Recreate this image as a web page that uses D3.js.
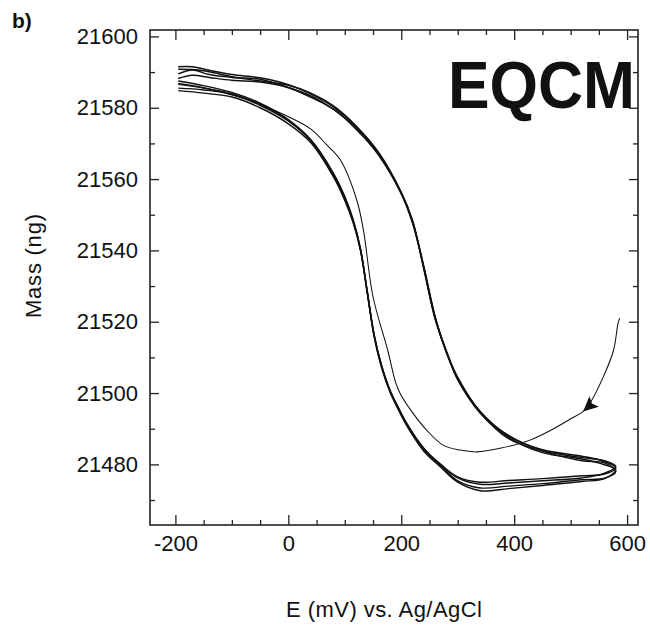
<!DOCTYPE html>
<html>
<head>
<meta charset="utf-8">
<script src="https://cdn.jsdelivr.net/npm/d3@7"></script>
<style>
  html, body { margin: 0; padding: 0; background: #fff; }
  svg { display: block; }
  text { font-family: "Liberation Sans", Arial, Helvetica, sans-serif; fill: #111; }
</style>
</head>
<body>
<svg id="chart" width="650" height="627"></svg>
<script>
// ---------- data ----------
const xMajorTicks = [-200, 0, 200, 400, 600];
const xMinorTicks = [-150, -100, -50, 50, 100, 150, 250, 300, 350, 450, 500, 550];
const yMajorTicks = [21480, 21500, 21520, 21540, 21560, 21580, 21600];
const yMinorTicks = [21470, 21490, 21510, 21530, 21550, 21570, 21590];

// first (initial) cathodic scan, starting at the open-circuit point
const firstE = [587, 584, 576, 558, 534, 522, 500, 470, 428, 375, 334, 304, 274, 245, 221, 198, 190, 176, 150, 133, 121, 92, 68, 40, 0, -50, -100, -150, -195];
const firstM = [21521, 21519.6, 21512, 21504.6, 21497.1, 21494.8, 21492.8, 21490, 21486.8, 21484.5, 21483.5, 21484, 21485.4, 21489.6, 21494.3, 21499.9, 21503, 21512, 21527, 21545.7, 21554.2, 21565.4, 21569.6, 21574, 21577.5, 21581, 21584, 21585.5, 21586.5];

// potentials of the anodic (forward) and cathodic (reverse) sweeps
const anodicE = [-195, -170, -140, -100, -50, 0, 40, 80, 120, 160, 200, 220, 240, 260, 280, 300, 340, 390, 450, 520, 560, 580];
const cathodicE = [580, 560, 520, 450, 390, 340, 300, 270, 240, 210, 195, 180, 165, 152, 140, 128, 115, 100, 80, 40, 0, -50, -100, -150, -195];

// mass of each cycle
const cycle1Anodic = [21591.5, 21591.5, 21590.5, 21589.3, 21588.4, 21586.5, 21583.8, 21580.2, 21574.8, 21567.2, 21556.1, 21548, 21535, 21521.2, 21511.8, 21504.2, 21494.8, 21487.9, 21484.1, 21482.3, 21480.8, 21479];
const cycle2Anodic = [21589.5, 21590.6, 21589.3, 21588.5, 21588, 21585.7, 21583.3, 21579.5, 21574.5, 21566.7, 21555.8, 21547.6, 21535.3, 21521, 21511.3, 21504, 21494.3, 21487.6, 21483.3, 21481.5, 21479.9, 21478.5];
const cycle3Anodic = [21588.2, 21589.1, 21588.5, 21587.7, 21587.2, 21585.6, 21582.9, 21579.6, 21574, 21566.8, 21556.2, 21548.4, 21534.7, 21520.7, 21511.6, 21503.7, 21494.5, 21487.2, 21483.7, 21481, 21480.4, 21478];
const cycle4Anodic = [21590.8, 21590.7, 21590.1, 21588.7, 21587.5, 21586.3, 21584.1, 21580.5, 21574.9, 21567.5, 21556.3, 21548.2, 21535.5, 21521.5, 21511.5, 21504.4, 21494.7, 21488.1, 21483.9, 21481.9, 21481, 21479.4];

const cycle1Cathodic = [21478.2, 21477.3, 21476.8, 21476, 21475.5, 21475, 21476.5, 21480, 21484.3, 21491.3, 21495.8, 21500.8, 21507.7, 21516.2, 21528.3, 21540.3, 21548.5, 21555.1, 21561.6, 21571, 21576.7, 21581.3, 21584.3, 21586.2, 21587.5];
const cycle2Cathodic = [21477, 21476, 21475.2, 21474.1, 21473.2, 21472.6, 21475, 21479.2, 21483.7, 21490.8, 21495.3, 21500.3, 21507.2, 21515.8, 21527.8, 21539.8, 21547.7, 21554, 21560.6, 21570.2, 21575.5, 21580, 21583, 21584.1, 21584.8];
const cycle3Cathodic = [21476.8, 21476.1, 21475.7, 21474.6, 21473.9, 21473.4, 21475.4, 21479.6, 21484.2, 21491.1, 21495.6, 21500.6, 21507.6, 21516.1, 21528.2, 21540.1, 21548, 21554.4, 21561.2, 21570.7, 21576.3, 21580.7, 21583.8, 21585, 21585.5];
const cycle4Cathodic = [21478.6, 21477.5, 21476.2, 21475.4, 21474.8, 21474.4, 21476.2, 21479.8, 21484.5, 21491.4, 21495.9, 21500.8, 21507.8, 21516.3, 21528.1, 21540.1, 21548.3, 21554.8, 21561.3, 21570.8, 21576.4, 21580.9, 21583.6, 21585.6, 21586.8];

const arrowIndex = 5; // arrow on the first scan at E = 522 mV

// ---------- chart ----------
const svg = d3.select("#chart");
const plotLeft = 150, plotRight = 638, plotTop = 30, plotBottom = 525;

const x = d3.scaleLinear().domain([-245, 619.3]).range([plotLeft, plotRight]);
const y = d3.scaleLinear().domain([21463, 21601.8]).range([plotBottom, plotTop]);

const axisColor = "#222";
const fontSize = 22;
const fmt = d => String(d);

// frame
svg.append("rect")
  .attr("x", plotLeft).attr("y", plotTop)
  .attr("width", plotRight - plotLeft).attr("height", plotBottom - plotTop)
  .attr("fill", "none").attr("stroke", axisColor).attr("stroke-width", 1.6);

function styleAxis(g) {
  g.select(".domain").remove();
  g.selectAll(".tick line").attr("stroke", axisColor).attr("stroke-width", 1.3);
  g.selectAll(".tick text").attr("font-size", fontSize).attr("fill", "#111")
    .attr("font-family", '"Liberation Sans", Arial, Helvetica, sans-serif');
}

// bottom
svg.append("g").attr("transform", `translate(0,${plotBottom})`)
  .call(d3.axisBottom(x).tickValues(xMajorTicks).tickSize(-10).tickSizeOuter(0).tickPadding(10).tickFormat(fmt))
  .call(styleAxis);
svg.append("g").attr("transform", `translate(0,${plotBottom})`)
  .call(d3.axisBottom(x).tickValues(xMinorTicks).tickSize(-5).tickSizeOuter(0).tickFormat(""))
  .call(styleAxis);
// top
svg.append("g").attr("transform", `translate(0,${plotTop})`)
  .call(d3.axisTop(x).tickValues(xMajorTicks).tickSize(-10).tickSizeOuter(0).tickFormat(""))
  .call(styleAxis);
svg.append("g").attr("transform", `translate(0,${plotTop})`)
  .call(d3.axisTop(x).tickValues(xMinorTicks).tickSize(-5).tickSizeOuter(0).tickFormat(""))
  .call(styleAxis);
// left
svg.append("g").attr("transform", `translate(${plotLeft},0)`)
  .call(d3.axisLeft(y).tickValues(yMajorTicks).tickSize(-9).tickSizeOuter(0).tickPadding(12).tickFormat(fmt))
  .call(styleAxis);
svg.append("g").attr("transform", `translate(${plotLeft},0)`)
  .call(d3.axisLeft(y).tickValues(yMinorTicks).tickSize(-5).tickSizeOuter(0).tickFormat(""))
  .call(styleAxis);
// right
svg.append("g").attr("transform", `translate(${plotRight},0)`)
  .call(d3.axisRight(y).tickValues(yMajorTicks).tickSize(-9).tickSizeOuter(0).tickFormat(""))
  .call(styleAxis);
svg.append("g").attr("transform", `translate(${plotRight},0)`)
  .call(d3.axisRight(y).tickValues(yMinorTicks).tickSize(-5).tickSizeOuter(0).tickFormat(""))
  .call(styleAxis);

// curves
const line = d3.line()
  .x(d => x(d[0]))
  .y(d => y(d[1]))
  .curve(d3.curveCatmullRom.alpha(0.5));

const zip = (es, ms) => es.map((e, i) => [e, ms[i]]);

const cycles = [
  [cycle1Anodic, cycle1Cathodic],
  [cycle2Anodic, cycle2Cathodic],
  [cycle3Anodic, cycle3Cathodic],
  [cycle4Anodic, cycle4Cathodic]
];

const firstPts = zip(firstE, firstM);
svg.append("path")
  .attr("d", line(firstPts))
  .attr("fill", "none").attr("stroke", "#111").attr("stroke-width", 1.05);

cycles.forEach(([a, c]) => {
  const pts = zip(anodicE, a).concat(zip(cathodicE, c).slice(1));
  svg.append("path")
    .attr("d", line(pts))
    .attr("fill", "none").attr("stroke", "#111").attr("stroke-width", 1.45);
});

// arrowhead on the first scan
{
  const p0 = firstPts[arrowIndex - 1], p1 = firstPts[arrowIndex];
  const x0 = x(p0[0]), y0 = y(p0[1]), x1 = x(p1[0]), y1 = y(p1[1]);
  const ang = Math.atan2(y1 - y0, x1 - x0) * 180 / Math.PI + 8;
  svg.append("path")
    .attr("d", "M0,0 L-15,-7 L-12,0 L-15,7 Z")
    .attr("transform", `translate(${x1},${y1}) rotate(${ang})`)
    .attr("fill", "#111");
}

// labels
svg.append("text")
  .attr("x", 12).attr("y", 28)
  .attr("font-size", 21).attr("font-weight", "bold")
  .text("b)");

svg.append("text")
  .attr("x", 448).attr("y", 108)
  .attr("font-size", 66).attr("font-weight", "bold")
  .attr("textLength", 187).attr("lengthAdjust", "spacingAndGlyphs")
  .attr("fill", "#000")
  .text("EQCM");

svg.append("text")
  .attr("transform", "translate(41,266) rotate(-90)")
  .attr("text-anchor", "middle")
  .attr("font-size", fontSize)
  .attr("textLength", 104).attr("lengthAdjust", "spacing")
  .text("Mass (ng)");

svg.append("text")
  .attr("x", 384).attr("y", 617)
  .attr("text-anchor", "middle")
  .attr("font-size", fontSize)
  .attr("textLength", 196).attr("lengthAdjust", "spacing")
  .text("E (mV) vs. Ag/AgCl");
</script>
</body>
</html>
